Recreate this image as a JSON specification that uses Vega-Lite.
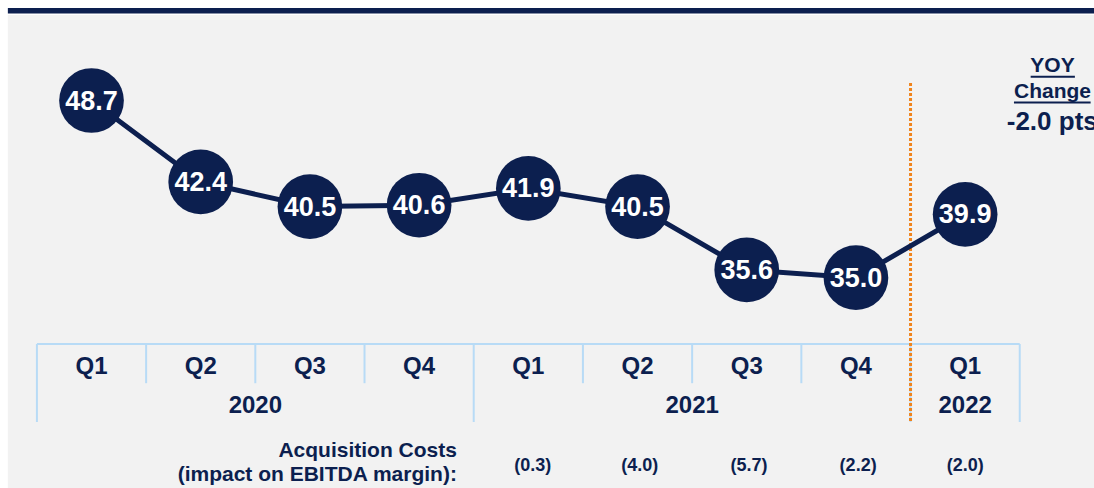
{
  "$schema": "https://vega.github.io/schema/vega-lite/v6.json",
  "width": 1094,
  "height": 488,
  "autosize": "none",
  "padding": 0,
  "background": "#ffffff",
  "config": {"view": {"stroke": null}, "text": {"font": "Liberation Sans", "fontWeight": "bold"}},
  "datasets": {
    "pts": [
      {"q": "Q1", "year": "2020", "i": 0, "v": 48.7},
      {"q": "Q2", "year": "2020", "i": 1, "v": 42.4},
      {"q": "Q3", "year": "2020", "i": 2, "v": 40.5},
      {"q": "Q4", "year": "2020", "i": 3, "v": 40.6},
      {"q": "Q1", "year": "2021", "i": 4, "v": 41.9},
      {"q": "Q2", "year": "2021", "i": 5, "v": 40.5},
      {"q": "Q3", "year": "2021", "i": 6, "v": 35.6},
      {"q": "Q4", "year": "2021", "i": 7, "v": 35.0},
      {"q": "Q1", "year": "2022", "i": 8, "v": 39.9}
    ],
    "years": [
      {"year": "2020", "i": 1.5},
      {"year": "2021", "i": 5.5},
      {"year": "2022", "i": 8}
    ],
    "qsep": [{"i": 0.5}, {"i": 1.5}, {"i": 2.5}, {"i": 4.5}, {"i": 5.5}, {"i": 6.5}],
    "ysep": [{"i": -0.5}, {"i": 3.5}, {"i": 7.5}, {"i": 8.5}],
    "cost": [
      {"i": 4.04, "c": "(0.3)"},
      {"i": 5.02, "c": "(4.0)"},
      {"i": 6.02, "c": "(5.7)"},
      {"i": 7.02, "c": "(2.2)"},
      {"i": 8.0, "c": "(2.0)"}
    ],
    "one": [{}]
  },
  "resolve": {"scale": {"y": "independent"}},
  "layer": [
    {
      "data": {"name": "one"},
      "mark": {"type": "rect", "color": "#f2f2f2"},
      "encoding": {
        "x": {"datum": -0.766, "type": "quantitative", "scale": {"domain": [-0.838, 9.18], "nice": false, "zero": false}, "axis": null},
        "x2": {"datum": 9.18},
        "y": {"datum": -8.225, "type": "quantitative", "scale": {"domain": [-8.6, 3.6], "reverse": true, "nice": false, "zero": false}, "axis": null},
        "y2": {"datum": 3.6}
      }
    },
    {
      "data": {"name": "one"},
      "mark": {"type": "rect", "color": "#0c1f4f"},
      "encoding": {
        "x": {"datum": -0.766, "type": "quantitative", "scale": {"domain": [-0.838, 9.18], "nice": false, "zero": false}, "axis": null},
        "x2": {"datum": 9.18},
        "y": {"datum": -8.4, "type": "quantitative", "scale": {"domain": [-8.6, 3.6], "reverse": true, "nice": false, "zero": false}, "axis": null},
        "y2": {"datum": -8.26}
      }
    },
    {
      "data": {"name": "one"},
      "mark": {"type": "rule", "color": "#b8dbf6", "strokeWidth": 2},
      "encoding": {
        "x": {"datum": -0.5, "type": "quantitative", "scale": {"domain": [-0.838, 9.18], "nice": false, "zero": false}, "axis": null},
        "x2": {"datum": 8.5},
        "y": {"datum": 0, "type": "quantitative", "scale": {"domain": [-8.6, 3.6], "reverse": true, "nice": false, "zero": false}, "axis": null}
      }
    },
    {
      "data": {"name": "qsep"},
      "mark": {"type": "rule", "color": "#b8dbf6", "strokeWidth": 2},
      "encoding": {
        "x": {"field": "i", "type": "quantitative", "scale": {"domain": [-0.838, 9.18], "nice": false, "zero": false}, "axis": null},
        "y": {"datum": 0, "type": "quantitative", "scale": {"domain": [-8.6, 3.6], "reverse": true, "nice": false, "zero": false}, "axis": null},
        "y2": {"datum": 0.98}
      }
    },
    {
      "data": {"name": "ysep"},
      "mark": {"type": "rule", "color": "#b8dbf6", "strokeWidth": 2},
      "encoding": {
        "x": {"field": "i", "type": "quantitative", "scale": {"domain": [-0.838, 9.18], "nice": false, "zero": false}, "axis": null},
        "y": {"datum": 0, "type": "quantitative", "scale": {"domain": [-8.6, 3.6], "reverse": true, "nice": false, "zero": false}, "axis": null},
        "y2": {"datum": 1.95}
      }
    },
    {
      "data": {"name": "one"},
      "mark": {"type": "rule", "color": "#f0841c", "strokeWidth": 3, "strokeDash": [3, 2]},
      "encoding": {
        "x": {"datum": 7.5, "type": "quantitative", "scale": {"domain": [-0.838, 9.18], "nice": false, "zero": false}, "axis": null},
        "y": {"datum": -6.525, "type": "quantitative", "scale": {"domain": [-8.6, 3.6], "reverse": true, "nice": false, "zero": false}, "axis": null},
        "y2": {"datum": 1.95}
      }
    },
    {
      "data": {"name": "pts"},
      "mark": {"type": "line", "color": "#0c1f4f", "strokeWidth": 5},
      "encoding": {
        "x": {"field": "i", "type": "quantitative", "scale": {"domain": [-0.838, 9.18], "nice": false, "zero": false}, "axis": null},
        "y": {"field": "v", "type": "quantitative", "scale": {"domain": [18.731, 56.473], "nice": false, "zero": false}, "axis": null}
      }
    },
    {
      "data": {"name": "pts"},
      "mark": {"type": "circle", "color": "#0c1f4f", "opacity": 1, "size": 4185},
      "encoding": {
        "x": {"field": "i", "type": "quantitative", "scale": {"domain": [-0.838, 9.18], "nice": false, "zero": false}, "axis": null},
        "y": {"field": "v", "type": "quantitative", "scale": {"domain": [18.731, 56.473], "nice": false, "zero": false}, "axis": null}
      }
    },
    {
      "data": {"name": "pts"},
      "mark": {"type": "text", "color": "#ffffff", "fontSize": 27, "align": "center", "baseline": "middle", "dy": 1},
      "encoding": {
        "x": {"field": "i", "type": "quantitative", "scale": {"domain": [-0.838, 9.18], "nice": false, "zero": false}, "axis": null},
        "y": {"field": "v", "type": "quantitative", "scale": {"domain": [18.731, 56.473], "nice": false, "zero": false}, "axis": null},
        "text": {"field": "v", "type": "quantitative", "format": ".1f"}
      }
    },
    {
      "data": {"name": "pts"},
      "mark": {"type": "text", "color": "#0c1f4f", "fontSize": 24, "align": "center", "baseline": "middle"},
      "encoding": {
        "x": {"field": "i", "type": "quantitative", "scale": {"domain": [-0.838, 9.18], "nice": false, "zero": false}, "axis": null},
        "y": {"datum": 0.575, "type": "quantitative", "scale": {"domain": [-8.6, 3.6], "reverse": true, "nice": false, "zero": false}, "axis": null},
        "text": {"field": "q", "type": "nominal"}
      }
    },
    {
      "data": {"name": "years"},
      "mark": {"type": "text", "color": "#0c1f4f", "fontSize": 24, "align": "center", "baseline": "middle"},
      "encoding": {
        "x": {"field": "i", "type": "quantitative", "scale": {"domain": [-0.838, 9.18], "nice": false, "zero": false}, "axis": null},
        "y": {"datum": 1.55, "type": "quantitative", "scale": {"domain": [-8.6, 3.6], "reverse": true, "nice": false, "zero": false}, "axis": null},
        "text": {"field": "year", "type": "nominal"}
      }
    },
    {
      "data": {"name": "cost"},
      "mark": {"type": "text", "color": "#0c1f4f", "fontSize": 18, "align": "center", "baseline": "middle"},
      "encoding": {
        "x": {"field": "i", "type": "quantitative", "scale": {"domain": [-0.838, 9.18], "nice": false, "zero": false}, "axis": null},
        "y": {"datum": 3.04, "type": "quantitative", "scale": {"domain": [-8.6, 3.6], "reverse": true, "nice": false, "zero": false}, "axis": null},
        "text": {"field": "c", "type": "nominal"}
      }
    },
    {
      "data": {"name": "one"},
      "mark": {"type": "text", "color": "#0c1f4f", "fontSize": 21, "align": "right", "baseline": "middle", "text": "Acquisition Costs"},
      "encoding": {
        "x": {"datum": 3.346, "type": "quantitative", "scale": {"domain": [-0.838, 9.18], "nice": false, "zero": false}, "axis": null},
        "y": {"datum": 2.6675, "type": "quantitative", "scale": {"domain": [-8.6, 3.6], "reverse": true, "nice": false, "zero": false}, "axis": null}
      }
    },
    {
      "data": {"name": "one"},
      "mark": {"type": "text", "color": "#0c1f4f", "fontSize": 21, "align": "right", "baseline": "middle", "text": "(impact on EBITDA margin):"},
      "encoding": {
        "x": {"datum": 3.346, "type": "quantitative", "scale": {"domain": [-0.838, 9.18], "nice": false, "zero": false}, "axis": null},
        "y": {"datum": 3.2625, "type": "quantitative", "scale": {"domain": [-8.6, 3.6], "reverse": true, "nice": false, "zero": false}, "axis": null}
      }
    },
    {
      "data": {"name": "one"},
      "mark": {"type": "text", "color": "#0c1f4f", "fontSize": 21, "align": "center", "baseline": "middle", "text": "YOY"},
      "encoding": {
        "x": {"datum": 8.8, "type": "quantitative", "scale": {"domain": [-0.838, 9.18], "nice": false, "zero": false}, "axis": null},
        "y": {"datum": -6.94, "type": "quantitative", "scale": {"domain": [-8.6, 3.6], "reverse": true, "nice": false, "zero": false}, "axis": null}
      }
    },
    {
      "data": {"name": "one"},
      "mark": {"type": "text", "color": "#0c1f4f", "fontSize": 21, "align": "center", "baseline": "middle", "text": "Change"},
      "encoding": {
        "x": {"datum": 8.8, "type": "quantitative", "scale": {"domain": [-0.838, 9.18], "nice": false, "zero": false}, "axis": null},
        "y": {"datum": -6.29, "type": "quantitative", "scale": {"domain": [-8.6, 3.6], "reverse": true, "nice": false, "zero": false}, "axis": null}
      }
    },
    {
      "data": {"name": "one"},
      "mark": {"type": "text", "color": "#0c1f4f", "fontSize": 26, "align": "left", "baseline": "middle", "text": "-2.0 pts"},
      "encoding": {
        "x": {"datum": 8.381, "type": "quantitative", "scale": {"domain": [-0.838, 9.18], "nice": false, "zero": false}, "axis": null},
        "y": {"datum": -5.55, "type": "quantitative", "scale": {"domain": [-8.6, 3.6], "reverse": true, "nice": false, "zero": false}, "axis": null}
      }
    },
    {
      "data": {"name": "one"},
      "mark": {"type": "rule", "color": "#0c1f4f", "strokeWidth": 2},
      "encoding": {
        "x": {"datum": 8.6, "type": "quantitative", "scale": {"domain": [-0.838, 9.18], "nice": false, "zero": false}, "axis": null},
        "x2": {"datum": 9.005},
        "y": {"datum": -6.68, "type": "quantitative", "scale": {"domain": [-8.6, 3.6], "reverse": true, "nice": false, "zero": false}, "axis": null}
      }
    },
    {
      "data": {"name": "one"},
      "mark": {"type": "rule", "color": "#0c1f4f", "strokeWidth": 2},
      "encoding": {
        "x": {"datum": 8.447, "type": "quantitative", "scale": {"domain": [-0.838, 9.18], "nice": false, "zero": false}, "axis": null},
        "x2": {"datum": 9.149},
        "y": {"datum": -6.04, "type": "quantitative", "scale": {"domain": [-8.6, 3.6], "reverse": true, "nice": false, "zero": false}, "axis": null}
      }
    }
  ]
}
